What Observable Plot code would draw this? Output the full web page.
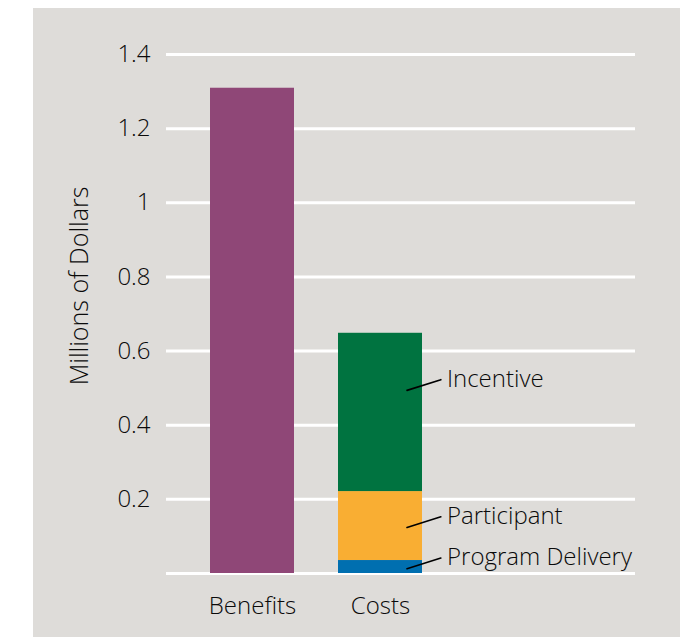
<!DOCTYPE html>
<html>
<head>
<meta charset="utf-8">
<script src="https://cdn.jsdelivr.net/npm/d3@7"></script>
<script src="https://cdn.jsdelivr.net/npm/@observablehq/plot@0.6"></script>
<style>
  html, body { margin: 0; padding: 0; background: #ffffff; }
  #page { position: relative; width: 696px; height: 639px; background: #ffffff; overflow: hidden; }
  #panel { position: absolute; left: 33px; top: 8px; width: 647px; height: 629px; background: #dedcd9; }
  #panel svg { display: block; background: transparent; overflow: visible; }
</style>
</head>
<body>
<div id="page"><div id="panel"></div></div>
<script>
// Categories and series
const categories = ["Benefits", "Costs"];
const benefitsValue = [1.309];
const costParts = ["Program Delivery", "Participant", "Incentive"];
const costValues = [0.035, 0.186, 0.427];
// Leader-line anchor values (in millions) inside the cost segments
const leaderY = [0.013, 0.124, 0.494];
// Y axis ticks and labels
const yTicks = [0.2, 0.4, 0.6, 0.8, 1.0, 1.2, 1.4];
const yTickLabels = ["0.2", "0.4", "0.6", "0.8", "1", "1.2", "1.4"];
const gridTicks = [0, 0.2, 0.4, 0.6, 0.8, 1.0, 1.2, 1.4];

const colors = {
  "Benefits": "#8f4777",
  "Incentive": "#007340",
  "Participant": "#f9ae33",
  "Program Delivery": "#006fb0"
};

const barData = [
  {category: "Benefits", part: "Benefits", value: benefitsValue[0]},
  ...costParts.map((p, i) => ({category: "Costs", part: p, value: costValues[i]}))
];
const labelData = costParts.map((p, i) => ({category: "Costs", part: p, y: leaderY[i]}));

const lineShape = {
  draw(context, l) { context.moveTo(0, 0); context.lineTo(0, -l); }
};

const font = "'Open Sans', sans-serif";
const ink = "#0a0a0a";

const chart = Plot.plot({
  width: 647,
  height: 629,
  marginTop: 46,
  marginBottom: 64,
  marginLeft: 133,
  marginRight: 45,
  style: {fontFamily: font, fontSize: "24px", fontWeight: 300, color: ink, background: "transparent"},
  x: {domain: categories, range: [176, 390], paddingInner: 0.341, paddingOuter: 0},
  y: {domain: [0, 1.4]},
  color: {domain: Object.keys(colors), range: Object.values(colors)},
  marks: [
    Plot.ruleY(gridTicks, {stroke: "#ffffff", strokeWidth: 3}),
    Plot.barY(barData, {x: "category", y: "value", fill: "part", order: null, inset: 0}),
    Plot.vector(labelData, {x: "category", y: "y", dx: 26.5, length: 35.5, rotate: 72.5, anchor: "start", shape: lineShape, stroke: "#000000", strokeWidth: 1.6}),
    Plot.text(labelData, {x: "category", y: "y", text: "part", dx: 66.5, dy: -11, textAnchor: "start", lineAnchor: "middle", fill: ink, fontSize: 24, fontWeight: 300}),
    Plot.axisY({ticks: yTicks, tickSize: 0, tickPadding: 16, tickFormat: (d) => yTickLabels[yTicks.indexOf(d)], label: null, fontSize: 24, fill: ink}),
    Plot.axisX({tickSize: 0, tickPadding: 23, label: null, fontSize: 24, fill: ink}),
    Plot.text(["Millions of Dollars"], {frameAnchor: "left", rotate: -90, dx: -87, dy: -28, lineAnchor: "middle", textAnchor: "middle", fontSize: 25, fontWeight: 300, fill: ink})
  ]
});

document.getElementById("panel").appendChild(chart);
</script>
</body>
</html>
